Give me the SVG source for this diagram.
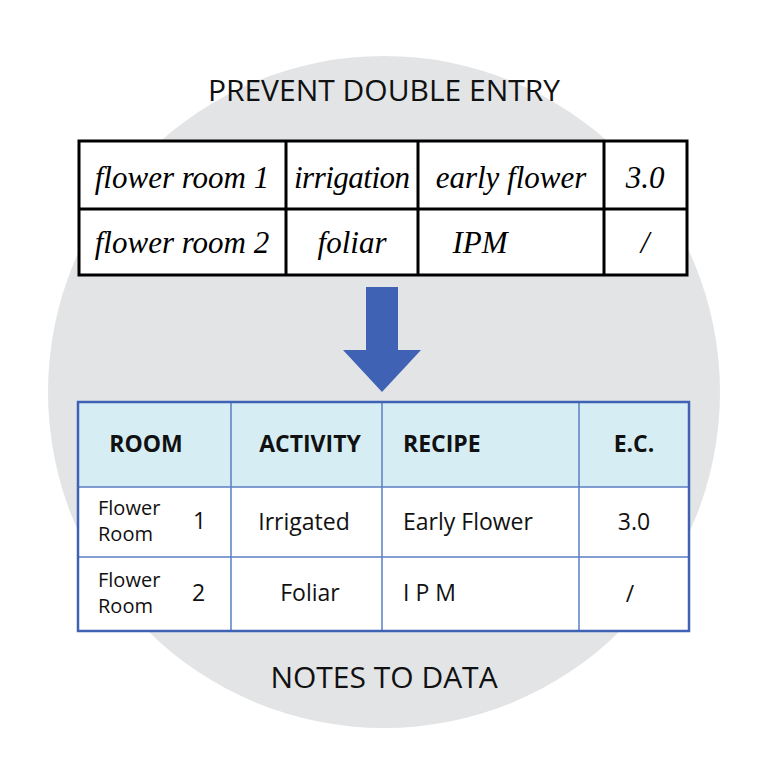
<svg xmlns="http://www.w3.org/2000/svg" width="768" height="768" viewBox="0 0 768 768">
<style>
.t{font-family:"Open Sans","Liberation Sans",sans-serif;fill:#111}
.h{font-family:"Liberation Serif",serif;font-style:italic;font-size:31px;fill:#000}
.b{font-weight:bold;font-size:23px}
.c{font-size:23px}
.s{font-size:20px}
</style>
<rect width="768" height="768" fill="#fff"/>
<circle cx="384" cy="392" r="336" fill="#e3e4e6"/>
<text class="t" x="384" y="101" text-anchor="middle" font-size="30">PREVENT DOUBLE ENTRY</text>
<g id="handwritten">
<rect x="79" y="141" width="608" height="134" fill="#fff" stroke="#000" stroke-width="3"/>
<path d="M79 209H687M286 141V275M418 141V275M604 141V275" stroke="#000" stroke-width="3"/>
<text class="h" x="182" y="188" text-anchor="middle">flower room 1</text>
<text class="h" x="352" y="188" text-anchor="middle" textLength="116">irrigation</text>
<text class="h" x="511" y="188" text-anchor="middle">early flower</text>
<text class="h" x="645" y="188" text-anchor="middle">3.0</text>
<text class="h" x="182" y="253" text-anchor="middle">flower room 2</text>
<text class="h" x="352" y="253" text-anchor="middle">foliar</text>
<text class="h" x="480" y="253" text-anchor="middle">IPM</text>
<text class="h" x="645" y="253" text-anchor="middle">/</text>
</g>
<g id="connectors">
<path d="M366 287H398V350H421L382 392L343 350H366Z" fill="#3f62b5"/>
</g>
<g id="datatable">
<rect x="78" y="402" width="611" height="229" fill="#fff"/>
<rect x="78" y="402" width="611" height="85" fill="#d6eef3"/>
<path d="M78 487H689M78 557H689M231 402V631M382 402V631M579 402V631" stroke="#5b7fc4" stroke-width="1.5"/>
<rect x="78" y="402" width="611" height="229" fill="none" stroke="#3f62b5" stroke-width="2.5"/>
<text class="t b" x="146" y="452" text-anchor="middle">ROOM</text>
<text class="t b" x="310" y="452" text-anchor="middle">ACTIVITY</text>
<text class="t b" x="403" y="452">RECIPE</text>
<text class="t b" x="634" y="452" text-anchor="middle">E.C.</text>
<text class="t s" x="98" y="515">Flower</text>
<text class="t s" x="98" y="541">Room</text>
<text class="t c" x="193" y="529">1</text>
<text class="t c" x="304" y="530" text-anchor="middle">Irrigated</text>
<text class="t c" x="403" y="530">Early Flower</text>
<text class="t c" x="634" y="530" text-anchor="middle">3.0</text>
<text class="t s" x="98" y="587">Flower</text>
<text class="t s" x="98" y="613">Room</text>
<text class="t c" x="192" y="601">2</text>
<text class="t c" x="310" y="601" text-anchor="middle">Foliar</text>
<text class="t c" x="403" y="601">I P M</text>
<text class="t c" x="630" y="602" text-anchor="middle">/</text>
</g>
<text class="t" x="384" y="688" text-anchor="middle" font-size="30">NOTES TO DATA</text>
</svg>
